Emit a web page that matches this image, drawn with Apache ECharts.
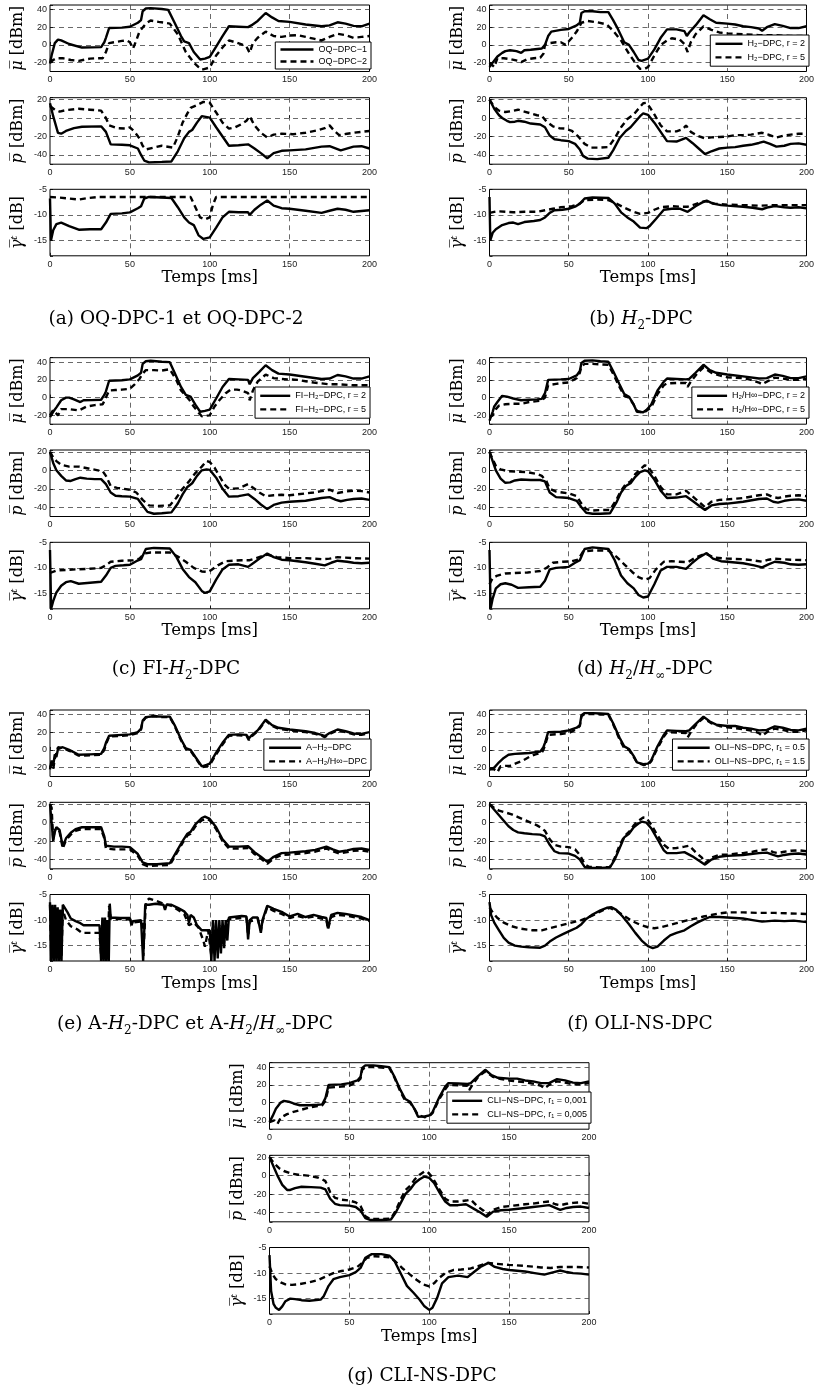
<!DOCTYPE html>
<html><head><meta charset="utf-8">
<script src="https://cdn.jsdelivr.net/npm/echarts@6.0.0/dist/echarts.min.js"></script>
<style>html,body{margin:0;padding:0;background:#fff}#c{width:817px;height:1396px}</style>
</head><body><div id="c"></div><script>
// ---------- data: [time (ms), value] ----------
const a_mu_1 = [[0,-21],[1,-12],[3,2],[5,6],[7,5],[12,1],[20,-3],[32,-2.5],[34,3],[35,8],[37,19],[45,19.5],[50,20.5],[55,25],[57,28],[58,38],[60,41],[63,41.5],[70,40.5],[74,39.5],[78,25],[82,10],[84,4],[87,2],[90,-8],[94,-16.5],[97,-15.5],[100,-13.5],[104,-2],[108,10],[112,21],[118,20.5],[124,20],[126,22],[130,27],[135,36],[139,31],[143,27],[150,26],[160,23],[170,21],[175,22],[180,25.5],[185,24],[190,21.5],[195,21],[200,24]];
const a_mu_2 = [[0,-20],[2,-17],[4,-15],[8,-15],[13,-17],[18,-18],[25,-15.5],[30,-15],[33,-15],[35,-8],[37,2],[40,3],[45,4.5],[48,5],[50,3],[52,-4],[54,5],[56,15],[60,24],[63,27.5],[68,26],[75,24],[80,12],[85,-8],[90,-20],[93,-25],[95,-28],[97,-27],[100,-25.5],[104,-12],[108,-3],[112,5],[116,3],[120,0.5],[123,-2],[125,-9],[127,2],[130,8],[135,15],[140,10],[145,9],[150,10.5],[155,11],[160,9],[165,7],[170,5],[175,9],[180,12.5],[185,11],[190,8],[195,9],[200,10]];
const a_p_1 = [[0,16],[2,2],[5,-16],[7,-17],[10,-14],[15,-11],[20,-9.5],[32,-9],[35,-15],[38,-28.5],[45,-29],[50,-29.5],[55,-33],[57,-40],[59,-46],[62,-48],[70,-47.5],[76,-47],[80,-36],[84,-22],[87,-15],[89,-13],[92,-5],[95,2],[100,0.5],[104,-10],[108,-20],[112,-30],[118,-29.5],[124,-28.5],[128,-33],[132,-38],[136,-43.5],[140,-38],[145,-35.5],[150,-35],[160,-34],[170,-31],[175,-30.5],[182,-35],[190,-31],[195,-30.5],[200,-33]];
const a_p_2 = [[0,13],[3,9],[6,7],[10,8.5],[18,10],[25,9],[32,8],[35,0],[37,-8],[42,-11],[48,-11.5],[50,-10],[53,-15],[56,-22],[58,-30],[60,-34],[65,-32],[70,-30],[77,-32],[80,-20],[83,-5],[86,5],[88,11],[92,14],[96,17.5],[100,16.5],[104,6],[108,-5],[112,-11.5],[116,-10],[120,-6.5],[123,-3],[125,2],[128,-8],[132,-16],[136,-21],[140,-18],[145,-17],[152,-17.5],[160,-16],[168,-13],[172,-11],[175,-8],[178,-14],[181,-18.5],[186,-17],[190,-16],[200,-14]];
const a_g_1 = [[0,-6.8],[0.6,-15],[2,-13],[4,-11.8],[7,-11.5],[12,-12.2],[18,-12.9],[25,-12.8],[32,-12.8],[35,-11.5],[38,-9.8],[45,-9.7],[50,-9.5],[55,-8.7],[57,-8.3],[59,-6.8],[62,-6.5],[70,-6.6],[76,-6.7],[80,-8.5],[84,-10.5],[87,-11.5],[90,-12],[93,-14],[96,-14.7],[100,-14.4],[104,-12.5],[108,-10.5],[112,-9.4],[118,-9.5],[124,-9.5],[125,-10],[128,-9],[132,-8],[136,-7.2],[140,-8.2],[145,-8.7],[150,-8.8],[160,-9.2],[170,-9.6],[175,-9.2],[180,-8.8],[185,-9],[190,-9.4],[200,-9.1]];
const a_g_2 = [[0,-6.5],[5,-6.6],[12,-6.8],[18,-7],[24,-6.7],[30,-6.5],[60,-6.5],[88,-6.5],[91,-8.5],[94,-10.5],[97,-10.9],[100,-10.5],[102,-8],[104,-6.5],[200,-6.5]];

const b_mu_1 = [[0,-25],[2,-20],[5,-13],[8,-9],[10,-7],[13,-6],[17,-7],[20,-9],[22,-6],[26,-5.5],[33,-4],[35,0],[37,10],[39,15],[45,17],[50,18],[55,22],[57,25],[58,36],[60,38],[65,38],[70,37],[75,37],[78,28],[81,18],[85,3],[88,0],[91,-8],[94,-17],[96,-18],[100,-15.5],[104,-5],[108,8],[112,17.5],[118,17.5],[123,15.5],[124.5,10],[126,14],[130,22],[135,33.5],[139,29],[143,25],[150,24],[155,23],[160,21],[165,20],[170,18.5],[172,16],[175,20],[180,23.5],[185,21.5],[190,19],[195,19],[200,21]];
const b_mu_2 = [[0,-20],[3,-25],[5,-15],[9,-15],[13,-16],[18,-18],[20,-19.5],[24,-16],[28,-15],[32,-14.5],[34,-10],[35,0],[38,2],[42,3],[45,3],[48,0],[52,8],[55,15],[58,25],[62,27],[68,25.5],[74,23],[78,16],[83,5],[88,-10],[93,-23],[95,-27],[98,-27],[100,-25],[104,-12],[108,0],[112,5],[115,7.5],[120,6],[123,1],[125,-8],[127,3],[130,12],[135,21],[140,17],[145,14],[150,13],[160,12],[170,11],[180,11],[190,10],[200,10]];
const b_p_1 = [[0,20],[3,10],[6,3],[8,0],[11,-3],[13,-4.5],[16,-4],[18,-3],[22,-4],[26,-6],[32,-7],[35,-10],[38,-19],[41,-23],[45,-24],[50,-25],[54,-28],[57,-34],[59,-41],[62,-44],[68,-44.5],[75,-43],[78,-35],[82,-22],[86,-14],[89,-10],[92,-4],[95,2],[97,5],[100,3.5],[104,-5],[108,-15],[112,-25],[118,-25.5],[124,-21.5],[128,-27],[132,-33],[136,-39],[140,-36],[145,-33],[150,-32],[155,-31.5],[160,-30],[165,-29],[170,-27],[173,-25.5],[177,-28],[181,-31],[186,-30],[190,-28],[195,-27.5],[200,-29]];
const b_p_2 = [[0,20],[3,12],[6,8],[10,6.5],[14,7.5],[18,9],[22,7],[26,5],[30,3],[33,2.5],[36,-4],[40,-9],[44,-11],[48,-11.5],[52,-14],[56,-20],[60,-28],[64,-32],[70,-32],[75,-31.5],[79,-22],[83,-10],[87,-1],[91,4],[95,12],[97,16],[99,16.5],[101,12],[104,4],[108,-8],[112,-14.5],[118,-14.5],[122,-12],[124,-8],[127,-15],[131,-19],[136,-22],[140,-21],[145,-20.5],[150,-20],[155,-18.5],[160,-18.5],[165,-18],[172,-16],[176,-18],[181,-21],[186,-19],[190,-18],[195,-17],[200,-17]];
const b_g_1 = [[0,-6.5],[0.5,-15],[2,-13.5],[4,-12.8],[8,-12],[12,-11.6],[15,-11.5],[18,-11.8],[22,-11.4],[28,-11.2],[32,-11],[35,-10.5],[38,-9.6],[41,-9.1],[46,-9],[50,-8.8],[54,-8.4],[57,-7.8],[60,-6.8],[65,-6.6],[75,-6.7],[79,-7.8],[83,-9.5],[87,-10.5],[91,-11.3],[95,-12.5],[99,-12.6],[101,-12.2],[105,-10.8],[110,-9],[115,-8.8],[120,-8.8],[125,-9.4],[130,-8.3],[134,-7.6],[137,-7.2],[141,-7.8],[146,-8.1],[150,-8.2],[160,-8.4],[166,-8.6],[172,-8.9],[176,-8.5],[180,-8.3],[186,-8.5],[190,-8.6],[195,-8.5],[200,-8.7]];
const b_g_2 = [[0,-9.6],[5,-9.3],[10,-9.4],[15,-9.5],[22,-9.4],[30,-9.4],[35,-9.1],[40,-8.8],[45,-8.5],[52,-8.3],[57,-7.8],[60,-7.1],[68,-7],[75,-7.1],[80,-7.8],[85,-8.6],[90,-9.3],[95,-9.8],[100,-9.6],[104,-9],[108,-8.5],[115,-8.3],[120,-8.4],[125,-8.4],[130,-7.9],[136,-7.3],[142,-7.8],[150,-8],[160,-8.1],[170,-8.2],[180,-8.1],[190,-8.1],[200,-8.1]];

const c_mu_1 = [[0,-22],[2,-16],[4,-11],[7,-3],[10,0],[12,0],[15,-2],[19,-5],[21,-3],[26,-2.8],[32,-2.4],[34,3],[35,7],[37,19],[45,19.5],[50,20.5],[55,25],[57,28],[58,38],[60,41],[63,41.5],[70,40.5],[75,40],[78,28],[82,12],[85,3],[88,1],[91,-8],[94,-16],[97,-15],[100,-13.5],[104,-1],[108,12],[112,21],[118,20.5],[124,20],[125,15],[127,22],[131,29],[135,36.5],[139,31],[143,27],[150,26],[160,23.5],[170,21],[175,21.5],[180,25.5],[185,24],[190,21.5],[195,21.5],[200,24]];
const c_mu_2 = [[0,-20],[2,-14],[3,-12],[5,-20],[7,-13],[12,-13],[18,-14.5],[23,-10],[28,-8.5],[33,-7.5],[35,0],[37,8],[41,8.5],[45,9],[50,10],[53,15],[56,21],[58,27],[60,31],[65,31],[70,30.5],[75,32],[79,20],[82,8],[87,-2],[90,-10],[93,-17],[95,-21],[100,-20],[103,-10],[106,-3],[110,5],[113,9],[117,9],[120,8],[124,5],[125,-3],[127,8],[130,18],[135,26],[140,22],[145,21],[150,20.5],[155,20],[160,18.5],[165,17],[170,16],[175,15],[180,15],[190,14],[200,14]];
const c_p_1 = [[0,20],[2,8],[4,0],[7,-6],[10,-11],[13,-11.5],[16,-9.5],[19,-8],[23,-9],[28,-9.5],[32,-9.5],[35,-15],[38,-24],[41,-27.5],[45,-28],[50,-28.5],[55,-31],[58,-38],[61,-45],[65,-47],[70,-46.5],[76,-45.5],[80,-36],[83,-26],[86,-18],[89,-14],[92,-6],[95,0],[98,1],[100,0.5],[104,-8],[108,-20],[112,-28.5],[118,-28],[124,-26],[128,-31],[132,-37],[136,-42],[140,-37.5],[145,-35],[150,-34],[160,-33],[170,-30],[175,-29],[179,-32],[182,-33.5],[186,-32],[190,-31],[195,-30.5],[200,-32]];
const c_p_2 = [[0,20],[2,14],[4,10],[7,6],[12,4],[18,4],[24,2],[30,0],[33,-1],[35,-6],[38,-17],[42,-19],[46,-20],[50,-21],[54,-24],[58,-32],[62,-38],[68,-38.5],[75,-38],[79,-30],[83,-20],[87,-12],[91,-3],[95,4],[98,10],[100,9],[103,3],[106,-6],[109,-15],[112,-20],[118,-19.5],[124,-15],[128,-20],[131,-24],[135,-28],[140,-27],[145,-26.5],[150,-27],[155,-26],[160,-25],[165,-24],[170,-22.5],[175,-21],[180,-24.5],[185,-23],[190,-22],[195,-22.5],[200,-24]];
const c_g_1 = [[0,-6.5],[0.7,-18],[2,-16.5],[4,-14.8],[7,-13.5],[10,-12.8],[13,-12.6],[18,-13.1],[25,-12.9],[32,-12.7],[35,-11.5],[38,-10],[41,-9.6],[46,-9.5],[50,-9.4],[54,-8.7],[57,-8.3],[60,-6.3],[65,-6.1],[75,-6.2],[79,-7.8],[83,-10.2],[87,-11.8],[91,-12.8],[95,-14.5],[97,-14.9],[100,-14.6],[104,-12.3],[108,-10.3],[112,-9.4],[118,-9.3],[124,-9.8],[128,-8.9],[132,-8],[136,-7.2],[140,-7.9],[145,-8.4],[150,-8.5],[160,-8.9],[166,-9.2],[172,-9.5],[176,-9],[180,-8.6],[186,-8.8],[190,-9],[195,-9.1],[200,-9]];
const c_g_2 = [[0,-11],[4,-10.5],[10,-10.4],[16,-10.3],[24,-10.2],[32,-10],[35,-9.5],[38,-8.8],[45,-8.6],[52,-8.5],[56,-8.2],[59,-7.2],[63,-7],[75,-7],[80,-7.8],[85,-8.8],[90,-10],[95,-10.7],[99,-10.8],[101,-10.4],[105,-9.5],[110,-8.7],[115,-8.6],[120,-8.5],[125,-8.5],[130,-8],[136,-7.4],[142,-7.9],[150,-8.1],[160,-8.1],[170,-8.3],[175,-8.2],[180,-7.9],[190,-8.1],[200,-8.2]];

const d_mu_1 = [[0,-26],[2,-16],[3,-10],[5,-5],[8,2],[11,1],[15,-1],[20,-3],[25,-2.5],[30,-2],[33,-1.5],[35,5],[37,20],[45,20.5],[50,21],[55,25],[57,30],[58,39],[60,41.5],[65,42],[70,41],[75,40.5],[78,30],[82,15],[85,4],[88,1],[91,-8],[93,-16],[97,-16.5],[99,-14],[102,-8],[106,8],[110,18],[112,21.5],[118,21],[124,20.5],[126,21],[130,28],[135,37],[139,31],[143,28],[150,26],[160,24],[170,21.5],[175,22],[180,26],[185,24.5],[190,22],[195,22],[200,24]];
const d_mu_2 = [[0,-22],[2,-20],[4,-13],[6,-9],[10,-7.5],[15,-7],[20,-7],[25,-5],[30,-4],[33,-3],[35,0],[37,14],[42,15.5],[46,16.5],[50,17],[55,22],[57,28],[58,35],[60,38],[65,38],[70,37.5],[75,37],[78,27],[82,12],[85,2],[88,0],[91,-8],[93,-15],[97,-17],[99,-15],[102,-11],[106,4],[110,14],[112,16],[118,16.5],[124,16.5],[125,12],[127,18],[131,27],[135,34],[140,28],[145,25],[150,23],[160,22],[165,20],[170,17],[172,15],[175,18],[180,22.5],[185,21.5],[190,20],[195,20],[200,21]];
const d_p_1 = [[0,20],[2,10],[4,0],[7,-9],[10,-13.5],[13,-13],[16,-11],[20,-10],[26,-10.5],[32,-10.5],[35,-12],[38,-24],[42,-29],[46,-29.5],[50,-30],[55,-33],[58,-40],[61,-46],[65,-47],[70,-47],[76,-46.5],[80,-35],[83,-24],[86,-17],[89,-14],[92,-7],[95,-2],[98,0],[100,-1],[104,-10],[108,-22],[112,-30],[118,-29.5],[124,-28],[128,-33],[132,-38],[136,-43],[140,-38],[145,-36.5],[150,-36],[160,-34],[170,-31],[175,-30.5],[179,-34],[182,-35],[186,-33],[190,-32],[195,-31.5],[200,-33]];
const d_p_2 = [[0,20],[2,12],[4,5],[7,1],[12,-1],[18,-1.5],[24,-2],[30,-4],[33,-6],[36,-12],[38,-20],[42,-23],[46,-24],[50,-25],[55,-28],[58,-36],[61,-42],[65,-43.5],[70,-43],[76,-43],[80,-32],[83,-22],[86,-15],[89,-12],[92,-4],[95,1],[98,5.5],[100,4],[104,-6],[108,-18],[112,-26],[118,-26],[124,-22],[128,-28],[132,-34],[136,-40],[140,-34],[145,-32],[150,-31.5],[160,-30],[170,-27],[175,-26],[179,-29],[182,-30],[186,-28.5],[190,-27.5],[195,-27],[200,-28]];
const d_g_1 = [[0,-6.5],[0.7,-18],[2,-16],[4,-14],[7,-13.2],[10,-13],[14,-13.3],[18,-13.9],[25,-13.8],[32,-13.7],[35,-12.5],[38,-10.3],[42,-10],[50,-9.8],[54,-9],[57,-8.5],[60,-6.3],[65,-6],[75,-6.3],[79,-8.5],[83,-11.5],[87,-13],[91,-14],[94,-15.3],[97,-15.8],[100,-15.6],[104,-13.2],[108,-10.5],[112,-9.8],[118,-9.8],[124,-10.2],[128,-9],[132,-8],[137,-7.1],[141,-8.2],[146,-8.7],[150,-8.8],[160,-9.1],[167,-9.5],[172,-9.9],[176,-9.3],[180,-8.8],[186,-9],[190,-9.3],[195,-9.4],[200,-9.3]];
const d_g_2 = [[0,-13.2],[2,-12],[5,-11.5],[10,-11.1],[16,-11],[24,-10.9],[32,-10.6],[36,-10],[40,-9],[46,-8.8],[52,-8.7],[56,-8.4],[59,-6.8],[65,-6.6],[75,-6.6],[80,-7.8],[85,-9.3],[90,-10.8],[94,-11.8],[98,-12.3],[101,-12],[105,-10.3],[110,-8.8],[115,-8.7],[120,-8.8],[125,-8.9],[130,-8],[136,-7.2],[142,-8],[150,-8.2],[160,-8.3],[166,-8.5],[172,-8.8],[176,-8.4],[180,-8.2],[190,-8.4],[200,-8.5]];

const e_mu_1 = [[0,-22],[1,-12],[2,-18],[3,-5],[4,-8],[5,1],[8,3],[12,0],[18,-5.5],[25,-5],[32,-4.5],[34,2],[35,8],[37,16],[45,17],[50,17.5],[55,20],[57,24],[58,33],[60,37],[65,38],[70,37.5],[75,37.5],[78,28],[82,12],[85,2],[88,0],[91,-8],[95,-18.5],[98,-17],[100,-15.5],[104,-3],[108,8],[112,17],[118,17.5],[123,17],[124.5,13],[126,16],[130,22],[135,34],[139,28],[143,25],[150,23],[160,21],[166,19],[170,17],[172,15.5],[175,19],[180,23],[185,21],[190,18.5],[195,18],[200,20]];
const e_mu_2 = [[0,-20],[1,-16],[2,-22],[3,-10],[4,-12],[5,3],[8,2],[12,-1],[18,-6.5],[25,-6],[32,-5.5],[34,0],[35,6],[37,15],[45,16],[50,16.5],[55,19],[57,23],[58,32],[60,36.5],[65,38.5],[70,37],[75,37],[78,27],[82,11],[85,1],[88,-1],[91,-9],[95,-19.5],[98,-18.5],[100,-17],[104,-5],[108,6],[112,16],[118,16.5],[123,16],[124.5,11],[126,15],[130,21],[135,33],[139,27],[143,24],[150,22],[160,20],[166,18],[170,16],[172,14.5],[175,18],[180,22],[185,20],[190,17.5],[195,17],[200,19]];
const e_p_1 = [[0,20],[1,18],[2,-20],[3,-10],[4,-5],[5,-4.5],[6,-8],[8,-26],[10,-17],[13,-11],[16,-7],[20,-5],[26,-5],[32,-5],[34,-15],[35,-25],[40,-26],[45,-26],[50,-26.5],[55,-34],[58,-43],[61,-45],[67,-45],[75,-44],[79,-32],[83,-20],[86,-12],[88,-10],[91,-2],[95,5],[97,6.5],[100,4],[104,-5],[108,-18],[112,-26],[118,-26],[124,-25.5],[128,-32],[132,-37],[136,-42.5],[140,-37],[145,-33],[150,-32.5],[160,-31],[166,-29.5],[173,-26],[177,-29],[181,-31.5],[186,-30],[190,-28.5],[195,-28],[200,-29.5]];
const e_p_2 = [[0,20],[1,16],[2,-18],[3,-8],[4,-6],[5,-7],[6,-10],[8,-28],[10,-19],[13,-13],[16,-9],[20,-7],[26,-7],[32,-7],[34,-17],[35,-28],[40,-29],[45,-29],[50,-29],[55,-36],[58,-45],[61,-47],[67,-46.5],[75,-46],[79,-34],[83,-22],[86,-14],[88,-12],[91,-4],[95,2.5],[98,4],[100,2.5],[104,-7],[108,-20],[112,-28],[118,-28],[124,-27.5],[128,-34],[132,-39],[136,-44.5],[140,-39],[145,-35],[150,-34.5],[160,-33],[166,-31.5],[173,-28],[177,-31],[181,-33.5],[186,-32],[190,-30.5],[195,-30],[200,-31.5]];
const e_g_1 = [[0,-6.5],[0.8,-18],[1.6,-7],[2.4,-18],[3.2,-7],[4,-18],[4.8,-7.5],[5.6,-18],[6.4,-8],[7.2,-18],[8,-7],[9,-7],[11,-8.5],[13,-9.7],[16,-10.2],[19,-10.6],[21,-11],[26,-11],[31,-11],[32,-18],[32.8,-9.5],[33.6,-18],[34.4,-9.5],[35.2,-18],[36,-10],[36.8,-18],[37.4,-6.8],[38,-9.5],[44,-9.6],[50,-9.6],[51,-11],[52,-10.2],[57,-10],[58,-9.8],[58.3,-18],[59.2,-18],[59.6,-7],[62,-7],[66,-6.8],[71,-7],[72,-8],[73,-7],[76,-7],[80,-7.6],[84,-8.3],[86,-9],[87,-10.5],[88,-9],[90,-9.5],[92,-11],[95,-12],[100,-12],[101,-18],[102,-10],[103,-18],[104,-10],[105,-17.5],[106,-10],[107,-16.5],[108,-10],[109,-15.5],[110,-10],[111,-14],[112,-9.5],[113,-9.2],[120,-9.2],[123,-9.3],[124,-13.8],[125,-10],[127,-9.5],[130,-9.5],[132,-12.5],[133,-10],[136,-7.2],[140,-7.8],[145,-8.4],[150,-9.3],[155,-8.8],[160,-9.4],[165,-9],[170,-9.4],[173,-9.6],[174,-11.6],[176,-9],[180,-8.6],[185,-8.8],[190,-9.1],[195,-9.4],[200,-10]];
const e_g_2 = [[0,-7],[0.8,-17],[1.6,-7.5],[2.4,-17],[3.2,-7.5],[4,-17],[4.8,-8],[5.6,-17],[6.4,-8],[7.2,-17],[8,-8],[10,-10],[13,-11.2],[17,-11.8],[20,-12.5],[26,-12.5],[31,-12.5],[32,-17],[33,-10],[34,-17],[35,-10],[36,-17],[37,-7.2],[38,-9.8],[44,-9.8],[50,-9.9],[52,-10.5],[58,-10.2],[58.4,-17],[59.4,-17],[60,-6.5],[62,-5.8],[66,-6.2],[71,-6.8],[76,-7.2],[80,-8],[84,-8.8],[87,-11],[90,-10.5],[93,-11.5],[96,-14],[97,-15.2],[99,-12],[101,-17],[102,-10.5],[104,-16],[106,-11],[108,-14],[110,-10.5],[112,-9.8],[120,-9.6],[123,-9.6],[124,-13],[125,-10.3],[130,-9.8],[132,-12],[133,-10.3],[136,-7.5],[140,-8.2],[145,-8.8],[150,-9.6],[155,-9.2],[160,-9.6],[165,-9.3],[170,-9.7],[173,-9.9],[174,-11.8],[176,-9.4],[180,-9],[185,-9.1],[190,-9.4],[195,-9.7],[200,-10.2]];

const f_mu_1 = [[0,-22],[3,-20],[6,-14],[9,-9],[12,-5.5],[16,-4.5],[20,-4],[25,-3.5],[32,-2],[34,3],[35,8],[37,20],[45,20.5],[50,22],[55,25],[57,28],[58,39],[60,41.5],[65,41.5],[70,41],[75,40.5],[78,30],[82,14],[85,4],[88,1],[91,-7],[93,-14],[97,-16],[100,-15.5],[102,-12],[106,4],[110,17],[112,22],[118,21.5],[124,21],[126,22],[130,29],[135,37.5],[139,32],[143,28.5],[150,27],[155,27],[160,25],[165,24],[170,22],[175,22.5],[180,26.5],[185,25],[190,22.5],[195,22],[200,24]];
const f_mu_2 = [[0,-22],[3,-22],[5,-25],[7,-18.5],[10,-18],[13,-18],[17,-15],[21,-12],[25,-8],[29,-5],[33,-3],[34,0],[35,5],[37,17],[45,18],[50,19],[55,23.5],[57,27],[58,38],[60,40.5],[65,40.5],[70,40],[75,39.5],[78,29],[82,12],[85,2],[88,0],[91,-8],[93,-14],[97,-17],[100,-16.5],[102,-13],[106,2],[110,15],[112,20],[118,19.5],[124,19],[125,14],[127,20],[131,30],[135,36],[140,30],[145,27],[150,25.5],[160,23.5],[166,21.5],[170,19],[172,16],[175,20],[180,24],[185,22.5],[190,20.5],[195,20.5],[200,22]];
const f_p_1 = [[0,20],[3,14],[6,8],[9,2],[12,-4],[15,-8],[18,-10.5],[22,-11.5],[27,-12.5],[32,-13],[35,-15],[38,-24],[41,-31],[44,-33],[50,-33.5],[54,-36],[57,-40],[60,-48],[63,-49],[70,-49],[76,-48.5],[79,-40],[82,-28],[85,-16],[88,-12],[91,-5],[94,-1],[96,1],[99,0],[102,-6],[106,-18],[110,-30],[112,-33],[118,-33],[123,-32],[128,-36.5],[132,-41],[136,-45.5],[140,-40],[145,-37],[150,-36],[160,-35],[165,-34],[170,-33],[175,-32.5],[179,-35],[182,-36.5],[186,-35],[190,-34],[195,-33.5],[200,-34.5]];
const f_p_2 = [[0,20],[3,16],[6,13],[10,11],[14,9],[18,6],[22,3],[26,0],[30,-3],[33,-6],[35,-9],[38,-18],[41,-24],[45,-26],[50,-26.5],[54,-29],[57,-35],[60,-45],[63,-48],[70,-48.5],[76,-48],[79,-38],[82,-25],[85,-15],[88,-10],[91,-3],[94,2],[97,5.5],[99,5],[102,-2],[106,-14],[110,-24],[113,-28],[118,-27.5],[123,-26],[126,-25],[130,-32],[134,-38],[136,-44],[140,-38],[145,-35],[150,-34.5],[160,-33],[166,-31.5],[170,-30],[175,-29],[179,-32],[182,-33],[186,-31.5],[190,-30.5],[195,-30],[200,-31]];
const f_g_1 = [[0,-6.5],[1,-9],[3,-10.5],[6,-12],[9,-13.5],[12,-14.4],[16,-15],[20,-15.2],[25,-15.3],[32,-15.4],[35,-15],[38,-14.2],[42,-13.4],[46,-12.8],[50,-12.2],[55,-11.5],[58,-10.8],[61,-9.8],[65,-8.9],[70,-8.1],[74,-7.6],[77,-7.5],[80,-8],[84,-9.3],[88,-10.8],[92,-12.5],[96,-14],[100,-15.1],[103,-15.5],[106,-15.2],[110,-14],[114,-13],[118,-12.5],[123,-12],[127,-11.2],[131,-10.5],[135,-9.9],[139,-9.4],[145,-9.4],[150,-9.5],[160,-9.7],[166,-10],[172,-10.3],[180,-10.1],[186,-10.2],[192,-10.1],[200,-10.4]];
const f_g_2 = [[0,-7.5],[2,-8.5],[5,-9.6],[9,-10.5],[14,-11.2],[20,-11.7],[27,-12],[33,-12],[38,-11.6],[43,-11.2],[48,-10.8],[53,-10.4],[58,-10],[62,-9.5],[67,-8.8],[72,-8],[76,-7.6],[80,-8.2],[85,-9.2],[90,-10.2],[95,-10.9],[100,-11.4],[104,-11.6],[108,-11.4],[113,-11],[118,-10.6],[124,-10.1],[130,-9.7],[135,-9.3],[140,-9],[145,-8.7],[150,-8.5],[160,-8.5],[170,-8.6],[180,-8.6],[190,-8.7],[200,-8.8]];

const g_mu_1 = [[0,-22],[2,-15],[4,-7],[7,0],[9,2],[12,1],[15,-1],[19,-3],[25,-3],[30,-2.5],[33,-2],[35,5],[37,20],[45,20.5],[50,22],[55,25],[57,29],[58,39],[60,42],[65,42],[70,41],[75,40],[78,30],[82,14],[85,4],[88,1],[91,-8],[93,-16],[97,-15.5],[100,-14.5],[102,-11],[106,5],[110,18],[112,22],[118,21.5],[124,21],[126,22],[130,29],[135,37],[139,31],[143,28],[150,27],[155,27],[160,25],[165,24],[170,22],[175,22],[180,26.5],[185,25],[190,22.5],[195,22],[200,24]];
const g_mu_2 = [[0,-22],[3,-20],[5,-24],[7,-17],[11,-13],[15,-10.5],[20,-8],[25,-5.5],[30,-4],[33,-3],[35,2],[37,17],[45,18],[50,19],[55,23.5],[57,27],[58,37],[60,40],[65,40],[70,39.5],[75,39],[78,29],[82,12],[85,2],[88,0],[91,-8],[93,-14],[97,-16.5],[100,-15.5],[102,-12],[106,3],[110,15],[112,20],[118,19.5],[124,19],[125,14],[127,20],[131,30],[135,35],[140,29],[145,26.5],[150,25],[160,23],[166,21],[170,19],[172,16],[175,20],[180,24],[185,22.5],[190,20.5],[195,20.5],[200,22]];
const g_p_1 = [[0,20],[3,8],[5,0],[8,-10],[11,-15.5],[13,-15.5],[16,-13.5],[20,-12],[26,-12.5],[32,-13],[35,-15],[38,-25],[41,-30.5],[44,-32],[50,-32.5],[54,-34],[57,-38],[60,-46],[63,-48],[70,-48],[76,-47.5],[79,-40],[82,-30],[85,-20],[88,-15],[91,-8],[94,-4],[97,-1],[100,-2.5],[103,-8],[107,-20],[110,-28],[113,-32],[118,-32],[123,-31],[128,-36],[132,-40],[136,-44.5],[140,-39],[145,-37.5],[150,-37],[160,-35],[165,-34],[170,-33],[175,-32],[179,-35],[182,-37],[186,-35],[190,-34],[195,-33.5],[200,-35]];
const g_p_2 = [[0,20],[3,13],[6,8],[9,5],[13,2.5],[18,1],[24,0],[30,-2],[33,-4],[35,-6],[38,-18],[41,-24],[45,-26],[50,-27],[54,-29],[57,-33],[60,-44],[63,-47],[70,-47],[76,-46.5],[79,-38],[82,-26],[85,-16],[88,-11],[91,-4],[94,1],[97,4.5],[99,4],[102,-2],[106,-14],[110,-25],[113,-28],[118,-28],[123,-27],[126,-26],[130,-33],[134,-38],[136,-43],[140,-37],[145,-34],[150,-33],[160,-31],[166,-30],[170,-29],[175,-28],[179,-31],[182,-32],[186,-30.5],[190,-29.5],[195,-29],[200,-30.5]];
const g_g_1 = [[0,-6.5],[1,-13.5],[2.5,-16],[4,-16.8],[6,-17.2],[8,-16.5],[10,-15.5],[13,-15],[16,-15.1],[20,-15.3],[25,-15.4],[32,-15.2],[34,-14.5],[37,-12.5],[40,-11.2],[44,-10.8],[50,-10.4],[54,-9.8],[57,-9],[60,-7],[64,-6.3],[70,-6.3],[75,-6.6],[78,-7.5],[82,-10],[86,-12.5],[90,-13.8],[94,-15.2],[97,-16.5],[100,-17.2],[102,-16.8],[105,-14.8],[108,-12],[112,-10.8],[118,-10.5],[124,-10.8],[128,-9.8],[132,-8.8],[137,-8],[141,-8.8],[146,-9.2],[150,-9.4],[160,-9.7],[166,-10],[172,-10.3],[178,-9.8],[182,-9.5],[186,-9.8],[190,-10],[195,-10.1],[200,-10.3]];
const g_g_2 = [[0,-8.7],[2,-10.3],[4,-11.2],[7,-11.8],[10,-12.2],[14,-12.3],[18,-12.2],[25,-11.8],[30,-11.4],[35,-10.7],[40,-10],[45,-9.6],[50,-9.3],[55,-8.8],[58,-8],[61,-7],[66,-6.7],[75,-6.9],[79,-7.8],[83,-9],[88,-10.3],[92,-11.3],[96,-12.2],[100,-12.6],[103,-12],[106,-11],[110,-10],[115,-9.4],[120,-9.3],[126,-9.1],[131,-8.6],[137,-8],[142,-8.2],[150,-8.4],[160,-8.6],[170,-8.9],[176,-9],[182,-8.8],[190,-8.8],[200,-8.9]];

// legend labels
const legend_a = ['OQ\u2212DPC\u22121', 'OQ\u2212DPC\u22122'];
const legend_b = ['H\u2082\u2212DPC, r = 2', 'H\u2082\u2212DPC, r = 5'];
const legend_c = ['FI\u2212H\u2082\u2212DPC, r = 2', 'FI\u2212H\u2082\u2212DPC, r = 5'];
const legend_d = ['H\u2082/H\u221E\u2212DPC, r = 2', 'H\u2082/H\u221E\u2212DPC, r = 5'];
const legend_e = ['A\u2212H\u2082\u2212DPC', 'A\u2212H\u2082/H\u221E\u2212DPC'];
const legend_f = ['OLI\u2212NS\u2212DPC, r\u2081 = 0.5', 'OLI\u2212NS\u2212DPC, r\u2081 = 1.5'];
const legend_g = ['CLI\u2212NS\u2212DPC, r\u2081 = 0,001', 'CLI\u2212NS\u2212DPC, r\u2081 = 0,005'];

// captions
const captions = [
  '(a) OQ-DPC-1 et OQ-DPC-2',
  '(b) {i|H}{s|2}-DPC',
  '(c) FI-{i|H}{s|2}-DPC',
  '(d) {i|H}{s|2}/{i|H}{s|\u221E}-DPC',
  '(e) A-{i|H}{s|2}-DPC et A-{i|H}{s|2}/{i|H}{s|\u221E}-DPC',
  '(f) OLI-NS-DPC',
  '(g) CLI-NS-DPC'
];

// axis ticks / labels
const xTickStep = 50;
const yAxisNames = ['{i|\u03BC\u0305} [dBm]', '{i|p\u0305} [dBm]', '{i|\u03B3\u0305\u1D57} [dB]'];
const yRanges = [[-30, 45, 4, 20], [-50, 22, 4, 20], [-18, -5, 3, 5]]; // min, max, splitNumber, labelStep

// ---------- layout ----------
const panels = [
  {left: 50,    tops: [5, 97.7, 189.3],        leg: legend_a, d: [[a_mu_1,a_mu_2],[a_p_1,a_p_2],[a_g_1,a_g_2]], L:{right:446, top:42,  w:33, h:10, gap:3, pad:[3,4,3,4]}, cap:{x:176, y:319}},
  {left: 489.5, tops: [5, 97.7, 189.3],        leg: legend_b, d: [[b_mu_1,b_mu_2],[b_p_1,b_p_2],[b_g_1,b_g_2]], L:{right:8,   top:35,  w:27, h:12, gap:4, pad:[4,4,4,4]}, cap:{x:641, y:319}},
  {left: 50,    tops: [357.7, 450, 542.3],     leg: legend_c, d: [[c_mu_1,c_mu_2],[c_p_1,c_p_2],[c_g_1,c_g_2]], L:{right:447, top:387, w:30, h:12, gap:4, pad:[4,4,4,4]}, cap:{x:176, y:669}},
  {left: 489.5, tops: [357.7, 450, 542.3],     leg: legend_d, d: [[d_mu_1,d_mu_2],[d_p_1,d_p_2],[d_g_1,d_g_2]], L:{right:8,   top:387, w:30, h:12, gap:4, pad:[4,4,4,4]}, cap:{x:645, y:669}},
  {left: 50,    tops: [710, 802.3, 894.5],     leg: legend_e, d: [[e_mu_1,e_mu_2],[e_p_1,e_p_2],[e_g_1,e_g_2]], L:{right:446, top:739, w:32, h:12, gap:4, pad:[4,4,4,4]}, cap:{x:195, y:1024}},
  {left: 489.5, tops: [710, 802.3, 894.5],     leg: legend_f, d: [[f_mu_1,f_mu_2],[f_p_1,f_p_2],[f_g_1,f_g_2]], L:{right:8,   top:739, w:32, h:12, gap:4, pad:[4,4,4,4]}, cap:{x:640, y:1024}},
  {left: 269.5, tops: [1062.7, 1155.3, 1247.5],leg: legend_g, d: [[g_mu_1,g_mu_2],[g_p_1,g_p_2],[g_g_1,g_g_2]], L:{right:226, top:1092,w:30, h:12, gap:4, pad:[4,4,4,4]}, cap:{x:422, y:1376}}
];
const GW = 319.5, GH = 66.5;

const grid = [], xAxis = [], yAxis = [], series = [], legend = [], graphic = [];
const tickFont = {fontFamily: 'Liberation Sans', fontSize: 9, color: '#222'};
const serif = 'DejaVu Serif';

panels.forEach((P, pi) => {
  for (let r = 0; r < 3; r++) {
    const idx = grid.length;
    grid.push({left: P.left, top: P.tops[r], width: GW, height: GH, show: true,
      borderColor: '#000', borderWidth: 1, backgroundColor: 'transparent', containLabel: false});
    xAxis.push({type: 'value', gridIndex: idx, min: 0, max: 200, interval: xTickStep,
      axisLine: {show: false},
      axisTick: {show: true, inside: true, length: 3, lineStyle: {color: '#000', width: 0.8}},
      axisLabel: Object.assign({margin: 4}, tickFont),
      splitLine: {show: true, showMinLine: false, showMaxLine: false, lineStyle: {type: [5, 4], color: '#444', width: 0.8}},
      name: r === 2 ? 'Temps [ms]' : '', nameLocation: 'middle', nameGap: 9,
      nameTextStyle: {fontFamily: serif, fontSize: 16.5, color: '#000'}
    });
    const yr = yRanges[r];
    yAxis.push({type: 'value', gridIndex: idx, min: yr[0], max: yr[1], splitNumber: yr[2],
      axisLine: {show: false},
      axisTick: {show: true, inside: true, length: 3, lineStyle: {color: '#000', width: 0.8}},
      axisLabel: Object.assign({margin: 3, showMinLabel: true, showMaxLabel: true,
        formatter: v => (Math.abs(v % yr[3]) < 1e-9 ? String(v) : '')}, tickFont),
      splitLine: {show: true, showMinLine: false, showMaxLine: false, lineStyle: {type: [5, 4], color: '#444', width: 0.8}},
      name: yAxisNames[r], nameLocation: 'middle', nameGap: 24,
      nameTextStyle: {fontFamily: serif, fontSize: 16, color: '#000',
        rich: {i: {fontFamily: serif, fontSize: 16, fontStyle: 'italic', color: '#000'}}}
    });
    for (let s = 0; s < 2; s++) {
      series.push({
        type: 'line', name: r === 0 ? P.leg[s] : ('p' + pi + 'r' + r + 's' + s),
        xAxisIndex: idx, yAxisIndex: idx, data: P.d[r][s], symbol: 'none', clip: true,
        lineStyle: {color: '#000', width: 2.4, type: s === 0 ? 'solid' : [6, 4], cap: 'butt'},
        itemStyle: {color: '#000'},
        emphasis: {disabled: true}, silent: true, z: 3
      });
    }
  }
  legend.push({
    data: P.leg, orient: 'vertical', right: P.L.right, top: P.L.top,
    itemWidth: P.L.w, itemHeight: P.L.h, itemGap: P.L.gap, padding: P.L.pad,
    backgroundColor: '#fff', borderColor: '#000', borderWidth: 1, borderRadius: 0,
    selectedMode: false, z: 10,
    itemStyle: {color: 'rgba(0,0,0,0)', borderWidth: 0, opacity: 0},
    lineStyle: {width: 2.4},
    textStyle: {fontFamily: 'Liberation Sans', fontSize: 9, color: '#000'}
  });
  graphic.push({
    type: 'text', x: P.cap.x, y: P.cap.y, silent: true,
    style: {
      text: captions[pi], fill: '#000', font: '18.5px "DejaVu Serif"',
      align: 'center', verticalAlign: 'middle',
      rich: {
        i: {fontFamily: serif, fontSize: 18.5, fontStyle: 'italic', fill: '#000'},
        s: {fontFamily: serif, fontSize: 12, fill: '#000', verticalAlign: 'bottom', padding: [0, 0, -3, 0]}
      }
    }
  });
});

const chart = echarts.init(document.getElementById('c'), null, {renderer: 'canvas'});
chart.setOption({
  animation: false, backgroundColor: '#fff',
  grid, xAxis, yAxis, series, legend, graphic
});
</script></body></html>
